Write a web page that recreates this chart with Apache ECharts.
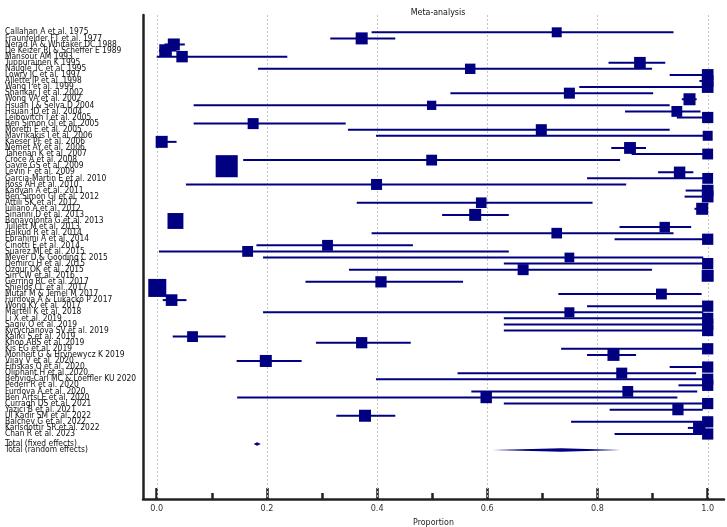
<!DOCTYPE html>
<html><head><meta charset="utf-8">
<script src="https://cdn.jsdelivr.net/npm/echarts@6/dist/echarts.min.js"></script>
<style>html,body{margin:0;padding:0;background:#fff}#c{width:727px;height:527px}</style>
</head><body><div id="c"></div>
<script>
const studies = [
 'Callahan A et al. 1975','Fraunfelder FT et al. 1977','Nerad JA & Whitaker DC 1988','De Keizer RJ & Scheffer E 1989',
 'Mansour AM 1993','Tuppurainen K 1995','Naugle TC et al. 1995','Lowry JC et al. 1997','Allette JP et al. 1998',
 'Wang I et al. 1999','Shankar J et al. 2002','Wong VA et al. 2002','Hsuah J & Selva D 2004','Hsuan JD et al. 2004',
 'Leibovitch I et al. 2005','Ben Simon GJ et al. 2005','Moretti E et al. 2005','Mavrikakis I et al. 2006',
 'Kaeser PF et al. 2006','Nemet AY et al. 2006','Tahenan K et al. 2007','Croce A et al. 2008','Gayre GS et al. 2009',
 'Levin F et al. 2009','Garcia-Martin E et al. 2010','Ross AH et al. 2010','Kadyan A et al. 2011',
 'Ben Simon GJ et al. 2012','Attili SK et al. 2012','Iuliano A et al. 2012','Sinanni D et al. 2013',
 'Bonavolonta G et al. 2013','Tullett M et al. 2013','Halkud R et al. 2014','Ebrahimi A et al. 2014',
 'Cinotti E et al. 2014','Suarez MJ et al. 2015','Meyer D & Gooding C 2015','Demirci H et al. 2015',
 'Ozgur OK et al. 2015','Sin CW et al. 2016','Gerring RC et al. 2017','Shields CL et al. 2017',
 'Mutaf M & Temel M 2017','Furdova A & Lukacko P 2017','Wong KY et al. 2017','Martell K et al. 2018',
 'Li X et al. 2019','Sagiv O et al. 2019','Kyrychanova SV et al. 2019','Kaliki S et al. 2019',
 'Khoo ABS et al. 2019','Kis EG et al. 2019','Monheit G & Hrynewycz K 2019','Vijay V et al. 2020',
 'Einskas O et al. 2020','Oliphant H et al. 2020','Behvig-Carl MC & Loeffler KU 2020','Peden R et al. 2020',
 'Furdova A et al. 2020','Ben Artsi E et al. 2020','Curragh DS et al. 2021','Yazici B et al. 2021',
 'Ul Kadir SM et al. 2022','Balchev G et al. 2022','Karlsdottir SR et al. 2022','Chan R et al. 2023'
];
const estimates = [
 0.726,0.372,0.031,0.016,0.046,0.877,0.569,1.0,1.0,1.0,0.749,0.967,0.499,0.944,1.0,0.175,0.698,1.0,
 0.009,0.859,1.0,0.499,0.127,0.949,1.0,0.399,1.0,1.0,0.589,0.990,0.578,0.034,0.922,0.726,1.0,0.310,
 0.165,0.749,1.0,0.665,1.0,0.407,0.001,0.916,0.027,1.0,0.749,1.0,1.0,1.0,0.065,0.372,1.0,0.829,
 0.198,1.0,0.844,1.0,1.0,0.855,0.598,1.0,0.946,0.378,1.0,0.984,1.0
];
const ciLower = [
 0.390,0.315,0.014,0.004,0.0,0.820,0.184,0.931,0.985,0.767,0.533,0.953,0.067,0.850,0.944,0.067,0.347,0.398,
 0.0,0.825,0.862,0.157,0.112,0.910,0.781,0.053,0.960,0.958,0.363,0.976,0.518,0.024,0.840,0.390,0.831,0.181,
 0.004,0.193,0.630,0.349,0.990,0.270,0.0,0.729,0.011,0.781,0.193,0.630,0.630,0.630,0.029,0.289,0.734,0.781,
 0.145,0.931,0.546,0.398,0.947,0.571,0.146,0.630,0.822,0.326,0.752,0.964,0.831
];
const ciUpper = [
 0.938,0.433,0.051,0.036,0.237,0.923,0.899,1.0,1.0,1.0,0.901,0.980,0.931,0.987,1.0,0.343,0.931,1.0,
 0.036,0.888,1.0,0.841,0.143,0.974,1.0,0.852,1.0,1.0,0.791,0.997,0.639,0.046,0.970,0.938,1.0,0.465,
 0.639,0.992,1.0,0.899,1.0,0.556,0.009,0.989,0.054,1.0,0.992,1.0,1.0,1.0,0.125,0.461,1.0,0.870,
 0.263,1.0,0.979,1.0,1.0,0.981,0.945,1.0,0.991,0.433,1.0,0.996,1.0
];
const weights = [
 1.1,1.6,1.6,1.75,1.45,1.5,1.2,1.5,1.5,1.5,1.34,1.6,0.95,1.3,1.4,1.34,1.34,1.1,
 1.6,1.55,1.3,1.3,5.4,1.45,1.3,1.34,1.5,1.5,1.25,1.6,1.6,2.8,1.2,1.25,1.4,1.3,
 1.3,1.05,1.4,1.34,1.6,1.4,3.6,1.3,1.5,1.4,1.1,1.4,1.4,1.4,1.3,1.4,1.4,1.6,
 1.6,1.4,1.34,1.4,1.4,1.3,1.45,1.4,1.4,1.6,1.4,1.5,1.4
];
const totalLabels = ['Total (fixed effects)','Total (random effects)'];
const totalEstimates = [0.182, 0.734];
const totalLower = [0.176, 0.609];
const totalUpper = [0.189, 0.842];
const xMajorTicks = [0, 0.2, 0.4, 0.6, 0.8, 1.0];
const xMinorTicks = [0.1, 0.3, 0.5, 0.7, 0.9];

const FONT = "'Liberation Sans Narrow','Arial Narrow','DejaVu Sans Condensed',sans-serif";
const NAVY = '#000080';
const X_MIN = -0.0249, X_MAX = 1.0296, Y_MIN = -2.843, Y_MAX = 76.68;
const n = studies.length;
const totalRows = [n + 0.65, n + 1.63];
const rowPos = studies.map((_, i) => i).concat(totalRows);
const rowLabels = studies.concat(totalLabels);
// blank guard labels at both ends keep ECharts from hiding the first / last real label
const labelValues = [Y_MIN + 0.3].concat(rowPos, [Y_MAX - 0.3]);
const studyData = studies.map((s, i) => [estimates[i], ciLower[i], ciUpper[i], i, weights[i]]);
const totalData = totalLabels.map((s, i) => [totalEstimates[i], totalLower[i], totalUpper[i], totalRows[i]]);
const gridData = xMajorTicks.map(v => [v, 0]);

function labelFor(v) {
  let best = -1, bd = 0.3;
  rowPos.forEach((p, i) => { const d = Math.abs(p - v); if (d < bd) { bd = d; best = i; } });
  return best < 0 ? '' : rowLabels[best];
}

const chart = echarts.init(document.getElementById('c'));
chart.setOption({
  animation: false,
  backgroundColor: '#fff',
  title: { text: 'Meta-analysis', left: 433, top: 3, textAlign: 'center',
    textStyle: { fontFamily: FONT, fontSize: 8.8, fontWeight: 'normal', color: '#111' } },
  grid: { left: 143, right: 3, top: 15, bottom: 28, containLabel: false, outerBoundsMode: 'none' },
  xAxis: [{
    type: 'value', min: X_MIN, max: X_MAX, position: 'bottom',
    axisLine: { show: true, onZero: false, lineStyle: { color: '#222', width: 2.5 } },
    axisTick: { show: true, inside: true, length: 11, customValues: xMajorTicks, lineStyle: { color: '#222', width: 2.5 } },
    axisLabel: { customValues: xMajorTicks, formatter: v => v.toFixed(1), fontFamily: FONT, fontSize: 9, color: '#333', margin: 5 },
    splitLine: { show: false },
    name: 'Proportion', nameLocation: 'middle', nameGap: 15,
    nameTextStyle: { fontFamily: FONT, fontSize: 8.8, color: '#222' }
  }, {
    type: 'value', min: X_MIN, max: X_MAX, position: 'bottom',
    axisLine: { show: false, onZero: false },
    axisTick: { show: true, inside: true, length: 6, customValues: xMinorTicks, lineStyle: { color: '#222', width: 2.5 } },
    axisLabel: { show: false }, splitLine: { show: false }
  }],
  yAxis: {
    type: 'value', inverse: true, min: Y_MIN, max: Y_MAX,
    axisLine: { show: true, onZero: false, lineStyle: { color: '#222', width: 2.5 } },
    axisTick: { show: false }, splitLine: { show: false },
    axisLabel: { customValues: labelValues, formatter: labelFor, align: 'left', margin: 138,
      hideOverlap: false, fontFamily: FONT, fontSize: 8.4, color: '#111' }
  },
  series: [{
    type: 'custom', silent: true, z: 1, data: gridData, encode: { x: 0, y: 1 },
    renderItem(params, api) {
      const x = Math.round(api.coord([api.value(0), 0])[0]) + 0.5;
      const cs = params.coordSys;
      return { type: 'line', shape: { x1: x, y1: cs.y, x2: x, y2: cs.y + cs.height },
        style: { stroke: '#c4c4c4', lineWidth: 1, lineDash: [2, 2] } };
    }
  }, {
    type: 'custom', silent: true, z: 2, data: studyData, encode: { x: [0, 1, 2], y: 3 },
    renderItem(params, api) {
      const est = api.value(0), lo = api.value(1), hi = api.value(2), r = api.value(3), w = api.value(4);
      const pL = api.coord([lo, r]), pH = api.coord([hi, r]), pE = api.coord([est, r]);
      const s = 9.5 * Math.sqrt(w);
      return { type: 'group', children: [
        { type: 'line', shape: { x1: pL[0], y1: pL[1], x2: pH[0], y2: pH[1] }, style: { stroke: NAVY, lineWidth: 2 } },
        { type: 'rect', shape: { x: pE[0] - s / 2, y: pE[1] - s / 2, width: s, height: s }, style: { fill: NAVY } }
      ] };
    }
  }, {
    type: 'custom', silent: true, z: 3, data: totalData, encode: { x: [0, 1, 2], y: 3 },
    renderItem(params, api) {
      const est = api.value(0), lo = api.value(1), hi = api.value(2), r = api.value(3);
      const pL = api.coord([lo, r]), pH = api.coord([hi, r]), pE = api.coord([est, r]);
      const h = 1.8;
      return { type: 'polygon', shape: { points: [[pL[0], pL[1]], [pE[0], pE[1] - h], [pH[0], pH[1]], [pE[0], pE[1] + h]] },
        style: { fill: NAVY } };
    }
  }]
});
</script></body></html>
